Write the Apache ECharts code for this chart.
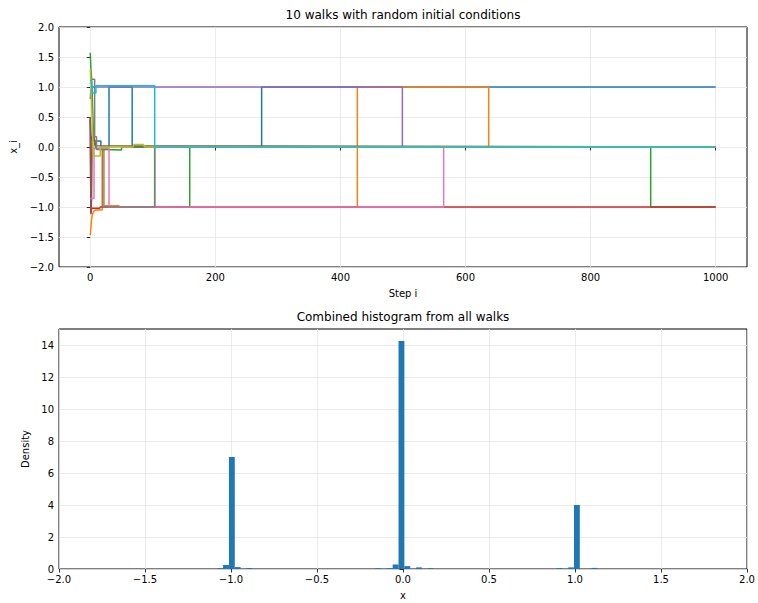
<!DOCTYPE html>
<html><head><meta charset="utf-8">
<script src="https://cdn.jsdelivr.net/npm/echarts@6/dist/echarts.min.js"></script>
<style>html,body{margin:0;padding:0;background:#fff}#c{width:758px;height:603px}</style>
</head><body><div id="c"></div>
<script>
// ---- data ----
// each walk: [step, x_i] breakpoints
const walkBlue   = [[0,0.45],[1,0.2],[2,0.12],[8,0.1],[17,0.1],[17,0.0],[30,0.0],[30,1.0],[67,1.0],[67,0.0],[274,0.0],[274,1.0],[1000,1.0]];
const walkOrange = [[0,-1.47],[1,-1.35],[2,-1.22],[3,-1.14],[5,-1.08],[8,-1.05],[19,-1.05],[19,-0.02],[22,-0.02],[22,-0.98],[46,-0.98],[46,-1.0],[427,-1.0],[427,1.0],[637,1.0],[637,0.0],[1000,0.0]];
const walkGreen  = [[0,1.57],[1,1.3],[2,1.15],[3,0.9],[4,0.55],[5,0.25],[7,0.05],[9,-0.03],[22,-0.04],[50,-0.05],[50,0.0],[103,0.0],[103,-1.0],[159,-1.0],[159,0.0],[896,0.0],[896,-1.0],[1000,-1.0]];
const walkRed    = [[0,0.5],[1,-1.12],[2,-1.02],[15,-1.02],[16,-1.0],[1000,-1.0]];
const walkPurple = [[0,0.8],[1,0.95],[3,1.0],[499,1.0],[499,0.0],[1000,0.0]];
const walkBrown  = [[0,0.5],[1,-1.1],[2,-0.9],[3,0.18],[6,0.16],[9,0.02],[1000,0.0]];
const walkPink   = [[0,-0.86],[6,-0.86],[6,-0.02],[30,-0.02],[30,-1.0],[565,-1.0],[565,0.0],[1000,0.0]];
const walkGray   = [[0,1.05],[2,1.13],[7,1.13],[7,0.17],[10,0.17],[10,-0.04],[20,-0.04],[20,-1.0],[103,-1.0],[103,0.0],[1000,0.0]];
const walkOlive  = [[0,1.3],[1,1.05],[2,0.75],[3,0.45],[4,0.15],[5,-0.15],[16,-0.15],[16,0.0],[68,0.0],[70,0.04],[85,0.04],[87,0.0],[1000,0.0]];
const walkCyan   = [[0,1.12],[2,1.1],[3,0.9],[9,0.9],[9,1.02],[103,1.02],[103,0.0],[1000,0.0]];

// histogram: left edge of each visible bin and its density
const histBinWidth = 0.034;
const histBinLeft = [-1.080,-1.046,-1.012,-0.978,-0.910,-0.162,-0.094,-0.060,-0.026,0.008,0.076,0.144,0.892,0.960,0.994,1.096];
const histDensity = [0.05,0.25,7.0,0.12,0.06,0.04,0.05,0.28,14.25,0.18,0.1,0.05,0.05,0.1,4.0,0.07];

// tick labels
const topXTicks = [0,200,400,600,800,1000];
const topYTicks = [-2,-1.5,-1,-0.5,0,0.5,1,1.5,2];
const botXTicks = [-2,-1.5,-1,-0.5,0,0.5,1,1.5,2];
const botYTicks = [0,2,4,6,8,10,12,14];

// ---- chart ----
const walks = [walkBlue,walkOrange,walkGreen,walkRed,walkPurple,walkBrown,walkPink,walkGray,walkOlive,walkCyan];
const colors = ['#1f77b4','#ff7f0e','#2ca02c','#d62728','#9467bd','#8c564b','#e377c2','#7f7f7f','#bcbd22','#17becf'];
const FONT = 'DejaVu Sans';
const minus = s => String(s).replace('-', '\u2212');
const txt = {fontFamily: FONT, fontSize: 10, color: '#000'};

function axisCommon(ticks, fmt) {
  return {
    axisLine: {show: false},
    axisTick: {show: true, customValues: ticks, length: 3.5, inside: false, lineStyle: {color: '#000', width: 0.8}},
    axisLabel: Object.assign({customValues: ticks, margin: 5, formatter: fmt}, txt),
    splitLine: {show: true, lineStyle: {color: '#e6e6e6', width: 0.8}},
    nameLocation: 'middle',
    nameTextStyle: txt
  };
}

const chart = echarts.init(document.getElementById('c'), null, {renderer: 'svg'});
const series = walks.map((w, i) => ({
  type: 'line', xAxisIndex: 0, yAxisIndex: 0, data: w,
  showSymbol: false, symbol: 'none', lineStyle: {width: 1.5, color: colors[i]},
  itemStyle: {color: colors[i]}, animation: false, silent: true, clip: true
}));
series.push({
  type: 'custom', xAxisIndex: 1, yAxisIndex: 1,
  data: histBinLeft.map((l, i) => [l, l + histBinWidth, histDensity[i]]),
  encode: {x: [0, 1], y: 2},
  renderItem: (params, api) => {
    const p0 = api.coord([api.value(0), 0]);
    const p1 = api.coord([api.value(1), api.value(2)]);
    return {type: 'rect', shape: {x: p0[0], y: p1[1], width: p1[0] - p0[0], height: p0[1] - p1[1]},
            style: {fill: '#1f77b4'}};
  },
  animation: false, silent: true
});

chart.setOption({
  animation: false,
  backgroundColor: '#fff',
  title: [
    {text: '10 walks with random initial conditions', left: 403, top: 9, textAlign: 'center', padding: 0,
     textStyle: {fontFamily: FONT, fontSize: 12, fontWeight: 'normal', color: '#000'}},
    {text: 'Combined histogram from all walks', left: 403, top: 311, textAlign: 'center', padding: 0,
     textStyle: {fontFamily: FONT, fontSize: 12, fontWeight: 'normal', color: '#000'}}
  ],
  grid: [
    {left: 59, top: 27, width: 688, height: 240, show: true, borderColor: '#000', borderWidth: 1, backgroundColor: 'transparent', containLabel: false, outerBoundsMode: 'none'},
    {left: 59, top: 329, width: 688, height: 240, show: true, borderColor: '#000', borderWidth: 1, backgroundColor: 'transparent', containLabel: false, outerBoundsMode: 'none'}
  ],
  xAxis: [
    Object.assign(axisCommon(topXTicks, v => minus(v)), {type: 'value', gridIndex: 0, min: -50, max: 1050, name: 'Step i', nameGap: 21}),
    Object.assign(axisCommon(botXTicks, v => minus(v.toFixed(1))), {type: 'value', gridIndex: 1, min: -2, max: 2, interval: 0.5, name: 'x', nameGap: 21})
  ],
  yAxis: [
    Object.assign(axisCommon(topYTicks, v => minus(v.toFixed(1))), {type: 'value', gridIndex: 0, min: -2, max: 2, interval: 0.5, name: 'x_i', nameGap: 38}),
    Object.assign(axisCommon(botYTicks, v => minus(v)), {type: 'value', gridIndex: 1, min: 0, max: 15, interval: 2, name: 'Density', nameGap: 25})
  ],
  series: series
});
</script>
</body></html>
